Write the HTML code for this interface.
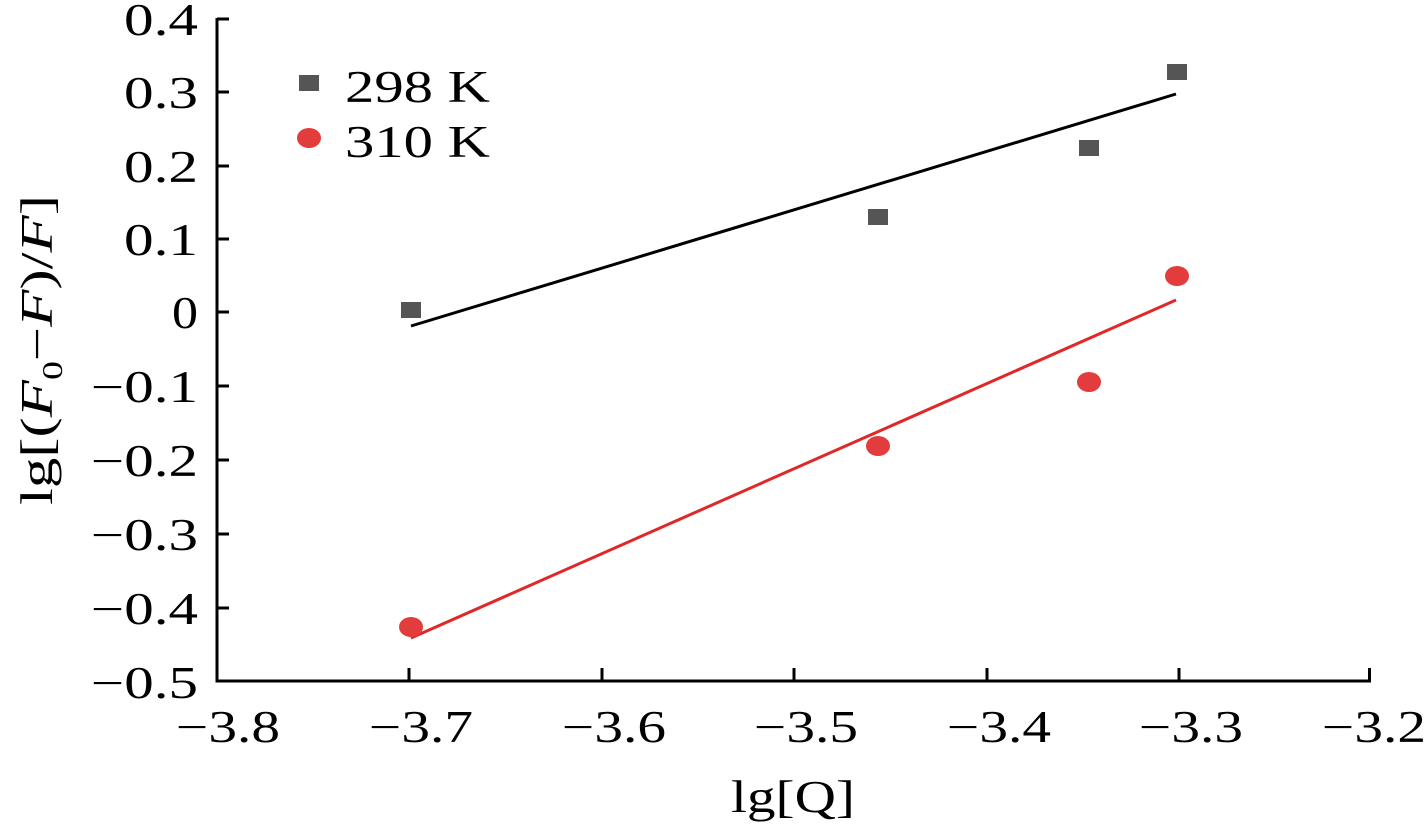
<!DOCTYPE html>
<html><head><style>
html,body{margin:0;padding:0;background:#fff;}
svg{display:block;}
text{font-family:"Liberation Serif",serif;fill:#000;}
</style></head><body>
<svg width="1427" height="826" viewBox="0 0 1427 826">
<g stroke="#000" stroke-width="3" fill="none">
<line x1="217" y1="18" x2="217" y2="682"/>
<line x1="215.5" y1="681" x2="1371" y2="681"/>
<line x1="217" y1="19" x2="229" y2="19"/>
<line x1="217" y1="92" x2="229" y2="92"/>
<line x1="217" y1="166" x2="229" y2="166"/>
<line x1="217" y1="239" x2="229" y2="239"/>
<line x1="217" y1="312" x2="229" y2="312"/>
<line x1="217" y1="386" x2="229" y2="386"/>
<line x1="217" y1="460" x2="229" y2="460"/>
<line x1="217" y1="534" x2="229" y2="534"/>
<line x1="217" y1="608" x2="229" y2="608"/>
<line x1="409" y1="681" x2="409" y2="668"/>
<line x1="602" y1="681" x2="602" y2="668"/>
<line x1="794" y1="681" x2="794" y2="668"/>
<line x1="987" y1="681" x2="987" y2="668"/>
<line x1="1179" y1="681" x2="1179" y2="668"/>
<line x1="1369.5" y1="681" x2="1369.5" y2="668"/>
</g>
<g font-size="45" text-anchor="end">
<text x="198" y="35" textLength="74" lengthAdjust="spacingAndGlyphs">0.4</text>
<text x="198" y="108" textLength="74" lengthAdjust="spacingAndGlyphs">0.3</text>
<text x="198" y="182" textLength="74" lengthAdjust="spacingAndGlyphs">0.2</text>
<text x="198" y="255" textLength="74" lengthAdjust="spacingAndGlyphs">0.1</text>
<text x="198" y="328" textLength="26" lengthAdjust="spacingAndGlyphs">0</text>
<text x="198" y="402" textLength="107" lengthAdjust="spacingAndGlyphs">−0.1</text>
<text x="198" y="476" textLength="107" lengthAdjust="spacingAndGlyphs">−0.2</text>
<text x="198" y="550" textLength="107" lengthAdjust="spacingAndGlyphs">−0.3</text>
<text x="198" y="624" textLength="107" lengthAdjust="spacingAndGlyphs">−0.4</text>
<text x="198" y="698" textLength="107" lengthAdjust="spacingAndGlyphs">−0.5</text>
</g>
<g font-size="45">
<text x="176" y="742" textLength="104" lengthAdjust="spacingAndGlyphs">−3.8</text>
<text x="369" y="742" textLength="104" lengthAdjust="spacingAndGlyphs">−3.7</text>
<text x="562" y="742" textLength="104" lengthAdjust="spacingAndGlyphs">−3.6</text>
<text x="754" y="742" textLength="104" lengthAdjust="spacingAndGlyphs">−3.5</text>
<text x="947" y="742" textLength="104" lengthAdjust="spacingAndGlyphs">−3.4</text>
<text x="1139" y="742" textLength="104" lengthAdjust="spacingAndGlyphs">−3.3</text>
<text x="1322" y="742" textLength="104" lengthAdjust="spacingAndGlyphs">−3.2</text>
<text x="731" y="812" textLength="124" lengthAdjust="spacingAndGlyphs">lg[Q]</text>
</g>
<text font-size="45" transform="translate(52,505) rotate(-90)" textLength="310" lengthAdjust="spacingAndGlyphs">lg[(<tspan font-style="italic">F</tspan><tspan font-size="28" dy="10">0</tspan><tspan dy="-10">−</tspan><tspan font-style="italic">F</tspan>)/<tspan font-style="italic">F</tspan>]</text>
<line x1="411" y1="326" x2="1176" y2="94" stroke="#000" stroke-width="3"/>
<line x1="411" y1="638" x2="1176" y2="300" stroke="#e02828" stroke-width="3"/>
<g fill="#555">
<rect x="401" y="302" width="20" height="16"/>
<rect x="868" y="209" width="20" height="16"/>
<rect x="1079" y="140" width="20" height="16"/>
<rect x="1167" y="64" width="20" height="16"/>
<rect x="299" y="75" width="20" height="16"/>
</g>
<g fill="#e23c3c">
<ellipse cx="411" cy="627" rx="12" ry="10"/>
<ellipse cx="878" cy="446" rx="12" ry="10"/>
<ellipse cx="1089" cy="382" rx="12" ry="10"/>
<ellipse cx="1177" cy="276" rx="12" ry="10"/>
<ellipse cx="309" cy="138" rx="12" ry="10"/>
</g>
<g font-size="45">
<text x="345" y="102" textLength="145" lengthAdjust="spacingAndGlyphs">298 K</text>
<text x="345" y="157" textLength="145" lengthAdjust="spacingAndGlyphs">310 K</text>
</g>
</svg>
</body></html>
